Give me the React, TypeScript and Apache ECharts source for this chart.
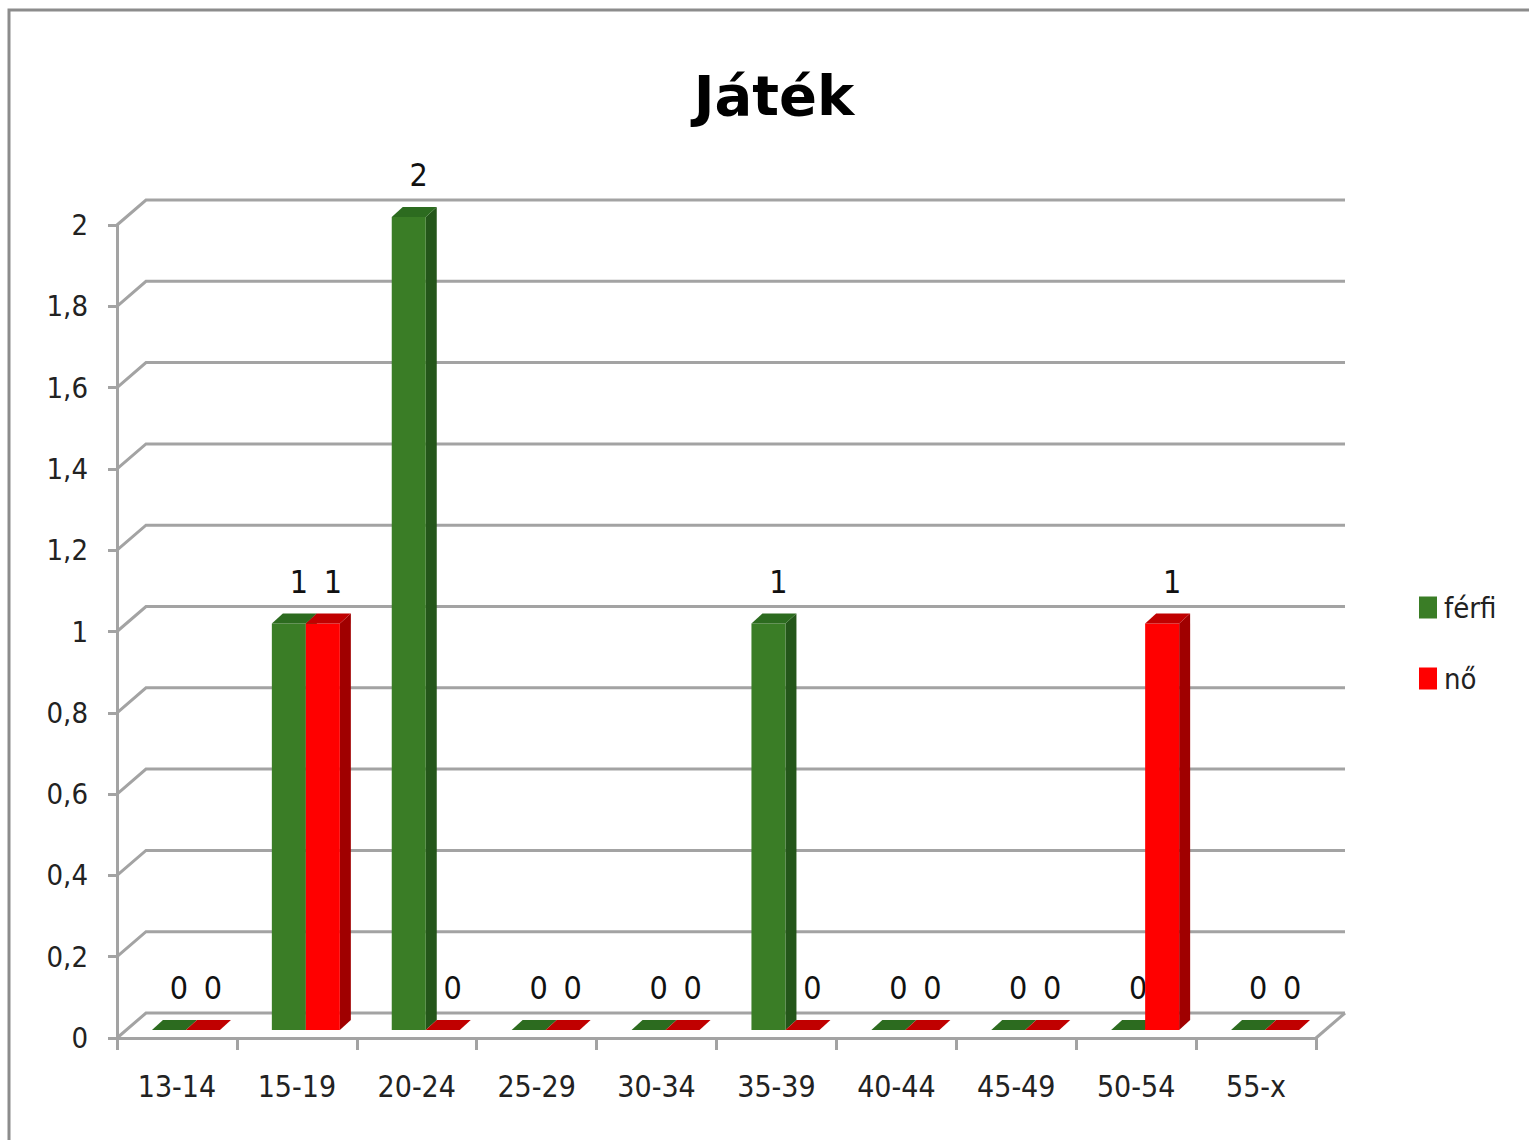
import React, { useEffect, useRef } from "react";
import * as echarts from "echarts";

const categories = ["13-14", "15-19", "20-24", "25-29", "30-34", "35-39", "40-44", "45-49", "50-54", "55-x"];
const ferfi = [0, 1, 2, 0, 0, 1, 0, 0, 0, 0];
const no = [0, 1, 0, 0, 0, 0, 0, 0, 1, 0];
const yTicks = [0, 0.2, 0.4, 0.6, 0.8, 1, 1.2, 1.4, 1.6, 1.8, 2];
const yTickLabels = ["0", "0,2", "0,4", "0,6", "0,8", "1", "1,2", "1,4", "1,6", "1,8", "2"];

const GREEN = { front: "#3a7d26", side: "#24561a", top: "#2c6b1f" };
const RED = { front: "#ff0000", side: "#a00000", top: "#c00000" };

const WALL_DX = 29;
const WALL_DY = -25;
const FRONT_DX = 9;
const FRONT_DY = -8;
const BAR_DX = 11;
const BAR_DY = -10;
const GRID_COLOR = "#a3a3a3";
const NARROW = "'Liberation Sans Narrow', 'DejaVu Sans Condensed', 'Noto Sans', sans-serif";

function makeBarRender(seriesIdx: number, col: { front: string; side: string; top: string }) {
  return (params: any, api: any) => {
    const ci = api.value(0);
    const v = api.value(1);
    const c = api.coord([ci, v]);
    const c0 = api.coord([ci, 0]);
    const catW = api.size([1, 0])[0];
    const bw = catW * 0.2836;
    const x0 = c[0] + FRONT_DX + (seriesIdx === 0 ? -bw : 0);
    const x1 = x0 + bw;
    const yb = c0[1] + FRONT_DY;
    const yt = c[1] + FRONT_DY;
    const children: any[] = [];
    if (yb - yt > 0.5) {
      children.push({
        type: "polygon",
        shape: { points: [[x1, yt], [x1 + BAR_DX, yt + BAR_DY], [x1 + BAR_DX, yb + BAR_DY], [x1, yb]] },
        style: { fill: col.side },
      });
      children.push({
        type: "rect",
        shape: { x: x0, y: yt, width: bw, height: yb - yt },
        style: { fill: col.front },
      });
    }
    children.push({
      type: "polygon",
      shape: { points: [[x0, yt], [x1, yt], [x1 + BAR_DX, yt + BAR_DY], [x0 + BAR_DX, yt + BAR_DY]] },
      style: { fill: col.top },
    });
    children.push({
      type: "text",
      style: {
        text: String(v),
        x: (x0 + x1) / 2 + 10,
        y: yt - 42,
        align: "center",
        verticalAlign: "middle",
        fontSize: 32,
        fontFamily: NARROW,
        fill: "#111",
      },
    });
    return { type: "group", children };
  };
}

function gridRender(params: any, api: any) {
  const v = api.value(1);
  const cs = params.coordSys;
  const left = cs.x;
  const right = cs.x + cs.width;
  const y = api.coord([0, v])[1];
  const style = { stroke: GRID_COLOR, lineWidth: 3, fill: "none" };
  const children: any[] = [
    {
      type: "polyline",
      shape: { points: [[left, y], [left + WALL_DX, y + WALL_DY], [right + WALL_DX, y + WALL_DY]] },
      style,
    },
  ];
  if (v === 0) {
    children.push({
      type: "line",
      shape: { x1: right, y1: y, x2: right + WALL_DX, y2: y + WALL_DY },
      style,
    });
  }
  return { type: "group", children };
}

export default function App() {
  const ref = useRef<HTMLDivElement>(null);
  useEffect(() => {
    if (!ref.current) return;
    const chart = echarts.init(ref.current, undefined, { renderer: "svg" });
    chart.setOption({
      animation: false,
      backgroundColor: "#ffffff",
      title: {
        text: "Játék",
        left: 769,
        textAlign: "center",
        top: 62,
        textStyle: {
          fontSize: 56,
          fontWeight: "bold",
          fontFamily: "'Comic Sans MS', 'DejaVu Sans', sans-serif",
          color: "#000",
        },
      },
      legend: {
        orient: "vertical",
        left: 1419,
        top: 593,
        padding: 0,
        itemWidth: 18,
        itemHeight: 22,
        itemGap: 42,
        icon: "rect",
        data: ["férfi", "nő"],
        textStyle: { fontSize: 29, fontFamily: NARROW, color: "#222", padding: [0, 0, 0, 2] },
      },
      graphic: [
        {
          type: "rect",
          shape: { x: 9, y: 10, width: 1540, height: 1150 },
          style: { fill: "none", stroke: "#8c8c8c", lineWidth: 3 },
          silent: true,
        },
      ],
      grid: { left: 117, right: 213, top: 225, bottom: 102 },
      xAxis: {
        type: "category",
        data: categories,
        axisLine: { show: true, lineStyle: { color: GRID_COLOR, width: 3 } },
        axisTick: { show: true, length: 12, lineStyle: { color: GRID_COLOR, width: 3 } },
        axisLabel: { interval: 0, margin: 33, fontSize: 30, fontFamily: NARROW, color: "#222" },
        splitLine: { show: false },
      },
      yAxis: {
        type: "value",
        min: 0,
        max: 2,
        interval: 0.2,
        axisLine: { show: true, lineStyle: { color: GRID_COLOR, width: 3 } },
        axisTick: { show: true, length: 9, lineStyle: { color: GRID_COLOR, width: 3 } },
        axisLabel: {
          margin: 29,
          fontSize: 29,
          fontFamily: NARROW,
          color: "#222",
          formatter: (val: number) => yTickLabels[Math.round(val / 0.2)] ?? String(val),
        },
        splitLine: { show: false },
      },
      series: [
        {
          type: "custom",
          name: "grid",
          z: 1,
          clip: false,
          silent: true,
          renderItem: gridRender,
          encode: { x: 0, y: 1 },
          data: yTicks.map((t) => [0, t]),
        },
        {
          type: "custom",
          name: "férfi",
          z: 3,
          clip: false,
          itemStyle: { color: GREEN.front },
          renderItem: makeBarRender(0, GREEN),
          encode: { x: 0, y: 1 },
          data: ferfi.map((v, i) => [i, v]),
        },
        {
          type: "custom",
          name: "nő",
          z: 4,
          clip: false,
          itemStyle: { color: RED.front },
          renderItem: makeBarRender(1, RED),
          encode: { x: 0, y: 1 },
          data: no.map((v, i) => [i, v]),
        },
      ],
    });
    return () => chart.dispose();
  }, []);
  return (
    <div
      ref={ref}
      style={{ position: "absolute", left: 0, top: 0, width: 1529, height: 1140 }}
    />
  );
}
